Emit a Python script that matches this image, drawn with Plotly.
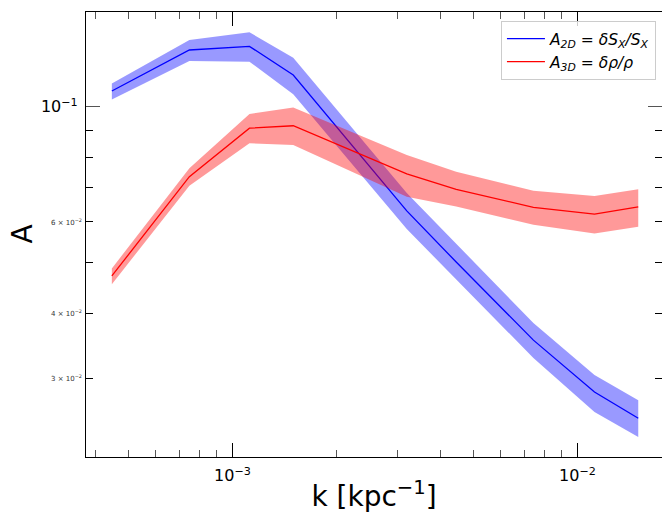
import math
import plotly.graph_objects as go

# ---- data ----
k = [0.000447, 0.00075, 0.00112, 0.0015, 0.0032, 0.00445, 0.00745, 0.0112, 0.0150]
a2d = [0.1072, 0.1286, 0.1307, 0.1151, 0.0630, 0.0502, 0.0355, 0.0282, 0.0251]
a2d_lo = [0.1032, 0.1225, 0.1221, 0.1057, 0.0581, 0.0464, 0.0328, 0.0258, 0.0231]
a2d_hi = [0.1109, 0.1344, 0.1391, 0.1243, 0.0682, 0.0544, 0.0383, 0.0304, 0.0272]
a3d = [0.0472, 0.0733, 0.0909, 0.0919, 0.0742, 0.0693, 0.0640, 0.0621, 0.0641]
a3d_lo = [0.0455, 0.0704, 0.0850, 0.0844, 0.0671, 0.0642, 0.0592, 0.0570, 0.0587]
a3d_hi = [0.0488, 0.0761, 0.0968, 0.0996, 0.0807, 0.0749, 0.0689, 0.0673, 0.0693]

x_major = [1e-3, 1e-2]
x_major_text = ["10<sup>−3</sup>", "10<sup>−2</sup>"]
x_minor = [4e-4, 5e-4, 6e-4, 7e-4, 8e-4, 9e-4,
           2e-3, 3e-3, 4e-3, 5e-3, 6e-3, 7e-3, 8e-3, 9e-3]
y_major = [0.1]
y_major_text = ["10<sup>−1</sup>"]
y_minor = [0.03, 0.04, 0.05, 0.06, 0.07, 0.08, 0.09]
y_minor_labelled = [0.06, 0.04, 0.03]
y_minor_text = ["6 × 10<sup>−2</sup>", "4 × 10<sup>−2</sup>", "3 × 10<sup>−2</sup>"]

FONT = "DejaVu Sans"

fig = go.Figure()

# blue band + line
fig.add_trace(go.Scatter(x=k, y=a2d_hi, mode="lines", line=dict(width=0),
                         showlegend=False, hoverinfo="skip"))
fig.add_trace(go.Scatter(x=k, y=a2d_lo, mode="lines", line=dict(width=0),
                         fill="tonexty", fillcolor="rgba(0,0,255,0.4)",
                         showlegend=False, hoverinfo="skip"))
fig.add_trace(go.Scatter(x=k, y=a2d, mode="lines", line=dict(color="#0000ff", width=1.3),
                         name="<i>A</i><sub><i>2D</i></sub> = <i>δS</i><sub><i>X</i></sub><i>/S</i><sub><i>X</i></sub>"))
# red band + line
fig.add_trace(go.Scatter(x=k, y=a3d_hi, mode="lines", line=dict(width=0),
                         showlegend=False, hoverinfo="skip"))
fig.add_trace(go.Scatter(x=k, y=a3d_lo, mode="lines", line=dict(width=0),
                         fill="tonexty", fillcolor="rgba(255,0,0,0.4)",
                         showlegend=False, hoverinfo="skip"))
fig.add_trace(go.Scatter(x=k, y=a3d, mode="lines", line=dict(color="#ff0000", width=1.3),
                         name="<i>A</i><sub><i>3D</i></sub> = <i>δρ/ρ</i>"))

# small labels on the labelled minor y ticks (log axis -> annotation y in log10 units)
annotations = []
for v, t in zip(y_minor_labelled, y_minor_text):
    annotations.append(dict(x=0, xref="paper", y=math.log10(v), yref="y", text=t,
                            showarrow=False, xanchor="right", yanchor="middle", xshift=-2,
                            font=dict(family=FONT, size=7, color="#333")))
# y-axis title
annotations.append(dict(x=-0.111, xref="paper", y=0.5, yref="paper", text="A",
                        textangle=-90, showarrow=False, xanchor="center", yanchor="middle",
                        font=dict(family=FONT, size=28, color="black")))

fig.update_layout(
    width=662, height=513,
    margin=dict(l=86, r=0, t=12, b=56, autoexpand=False),
    paper_bgcolor="white", plot_bgcolor="white",
    font=dict(family=FONT, color="black"),
    showlegend=True,
    legend=dict(x=0.7204, y=0.9798, xanchor="left", yanchor="top",
                traceorder="normal", itemwidth=38,
                bgcolor="rgba(255,255,255,0.8)", bordercolor="#cccccc", borderwidth=1,
                font=dict(family=FONT, size=15.5, color="black"),
                tracegroupgap=0),
    annotations=annotations,
    xaxis=dict(type="log", range=[-3.4246, -1.7551], autorange=False,
               showgrid=False, zeroline=False, showline=True, linecolor="black",
               linewidth=1.1, mirror="ticks",
               tickmode="array", tickvals=x_major, ticktext=x_major_text,
               ticks="inside", ticklen=14, tickwidth=1, tickcolor="black",
               tickfont=dict(family=FONT, size=16, color="black"),
               ticklabelstandoff=4,
               minor=dict(tickmode="array", tickvals=x_minor, ticks="inside",
                          ticklen=7, tickwidth=1, tickcolor="#555", showgrid=False),
               title=dict(text="k [kpc<sup>−1</sup>]", standoff=3,
                          font=dict(family=FONT, size=28, color="black")),
               automargin=False),
    yaxis=dict(type="log", range=[-1.67495, -0.81753], autorange=False,
               showgrid=False, zeroline=False, showline=True, linecolor="black",
               linewidth=1.1, mirror="ticks",
               tickmode="array", tickvals=y_major, ticktext=y_major_text,
               ticks="inside", ticklen=14, tickwidth=1, tickcolor="#555",
               tickfont=dict(family=FONT, size=16, color="black"),
               ticklabelstandoff=4,
               minor=dict(tickmode="array", tickvals=y_minor, ticks="inside",
                          ticklen=7, tickwidth=1, tickcolor="black", showgrid=False),
               automargin=False),
)

fig.write_html("out.html", config={"displayModeBar": False},
               post_script="document.body.style.margin='0';")
